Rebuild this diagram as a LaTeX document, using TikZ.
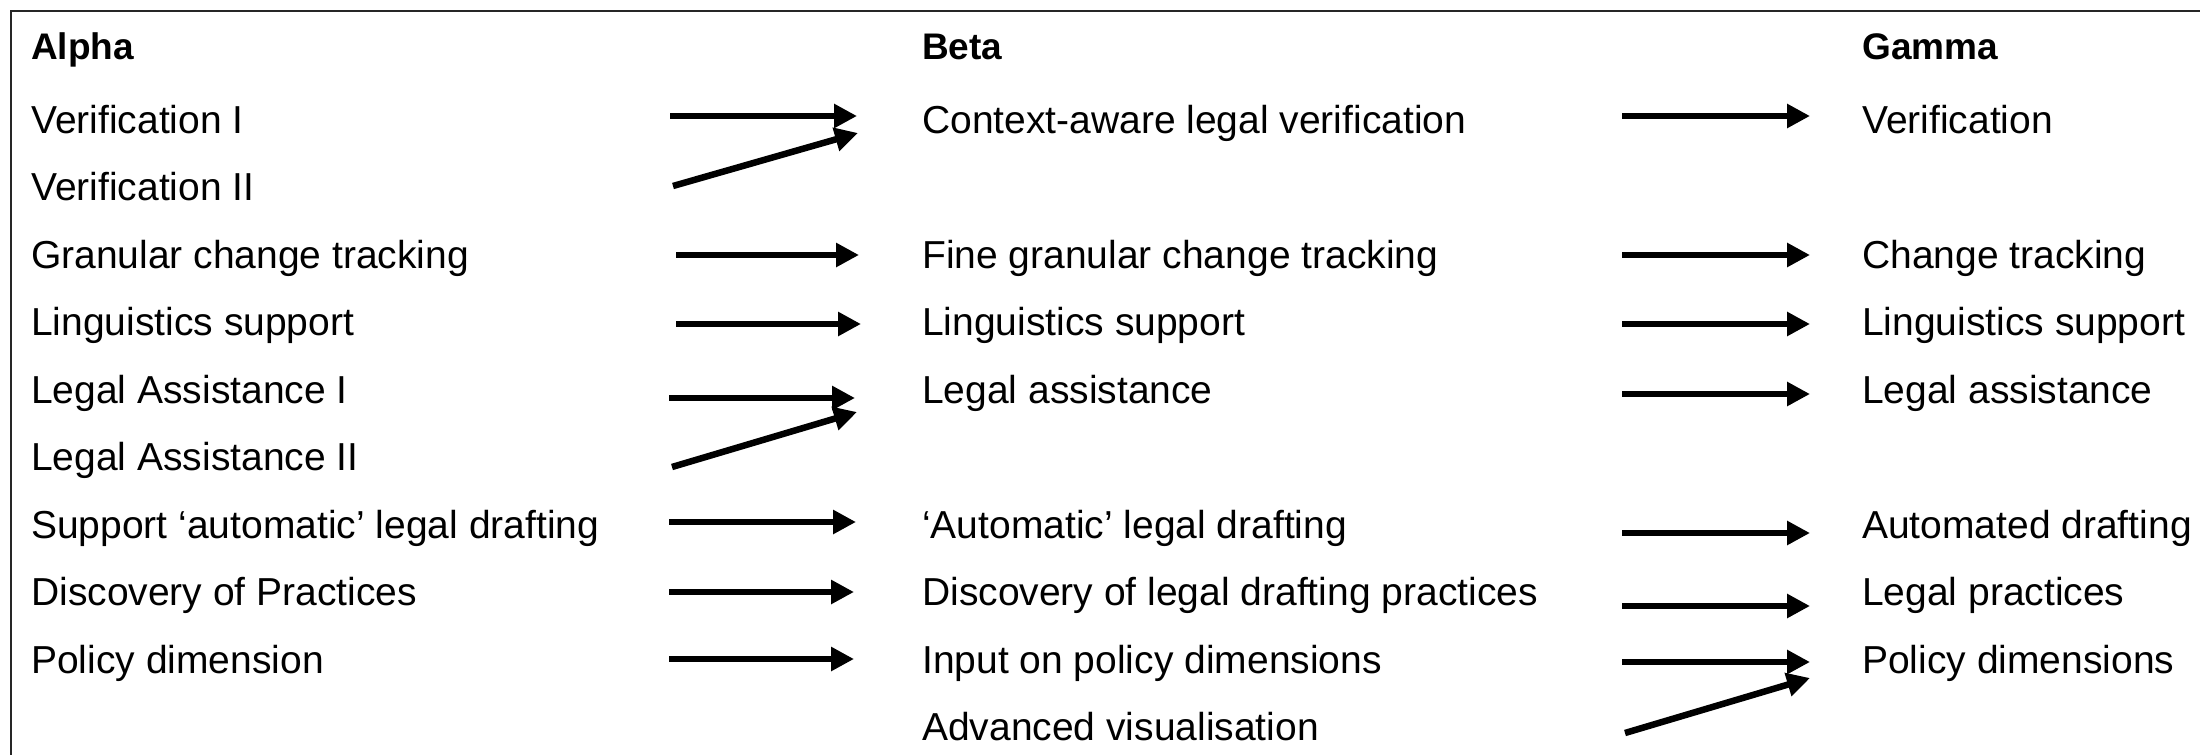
\documentclass[tikz,border=0pt]{standalone}
\usepackage{fontspec}
\setmainfont{Liberation Sans}
\usetikzlibrary{arrows.meta}
\tikzset{
  lbl/.style={anchor=base west, inner sep=0pt, font=\fontsize{39bp}{47bp}\selectfont},
  hdr/.style={anchor=base west, inner sep=0pt, font=\fontsize{37bp}{45bp}\selectfont\bfseries},
  arr/.style={line width=6.5bp, -{Triangle[length=23bp,width=23bp]}},
  frame/.style={line width=2bp, black!85}
}
\begin{document}
\begin{tikzpicture}[x=1bp,y=-1bp]
\useasboundingbox (0,0) rectangle (2200,755);
\draw[frame] (2200,11) -- (11,11) -- (11,755);
% column x positions
\def\xa{31}\def\xb{922}\def\xc{1862}
% headers
\node[hdr] (ha) at (\xa,60) {Alpha};
\node[hdr] (hb) at (\xb,60) {Beta};
\node[hdr] (hc) at (\xc,60) {Gamma};
% column A
\node[lbl] (a1) at (\xa,133) {Verification I};
\node[lbl] (a2) at (\xa,200.5) {Verification II};
\node[lbl] (a3) at (\xa,268) {Granular change tracking};
\node[lbl] (a4) at (\xa,335.5) {Linguistics support};
\node[lbl] (a5) at (\xa,403) {Legal Assistance I};
\node[lbl] (a6) at (\xa,470.5) {Legal Assistance II};
\node[lbl] (a7) at (\xa,538) {Support ‘automatic’ legal drafting};
\node[lbl] (a8) at (\xa,605.5) {Discovery of Practices};
\node[lbl] (a9) at (\xa,673) {Policy dimension};
% column B
\node[lbl] (b1) at (\xb,133) {Context-aware legal verification};
\node[lbl] (b3) at (\xb,268) {Fine granular change tracking};
\node[lbl] (b4) at (\xb,335.5) {Linguistics support};
\node[lbl] (b5) at (\xb,403) {Legal assistance};
\node[lbl] (b7) at (\xb,538) {‘Automatic’ legal drafting};
\node[lbl] (b8) at (\xb,605.5) {Discovery of legal drafting practices};
\node[lbl] (b9) at (\xb,673) {Input on policy dimensions};
\node[lbl] (b10) at (\xb,740.5) {Advanced visualisation};
% column C
\node[lbl] (c1) at (\xc,133) {Verification};
\node[lbl] (c3) at (\xc,268) {Change tracking};
\node[lbl] (c4) at (\xc,335.5) {Linguistics support};
\node[lbl] (c5) at (\xc,403) {Legal assistance};
\node[lbl] (c7) at (\xc,538) {Automated drafting};
\node[lbl] (c8) at (\xc,605.5) {Legal practices};
\node[lbl] (c9) at (\xc,673) {Policy dimensions};
% arrow end points A -> B
\coordinate (ab1s) at (670,116);  \coordinate (ab1t) at (857,116);
\coordinate (ab2s) at (673,186);  \coordinate (ab2t) at (858,133);
\coordinate (ab3s) at (676,255);  \coordinate (ab3t) at (859,255);
\coordinate (ab4s) at (676,324);  \coordinate (ab4t) at (861,324);
\coordinate (ab5s) at (669,398);  \coordinate (ab5t) at (855,398);
\coordinate (ab6s) at (672,467);  \coordinate (ab6t) at (857,412);
\coordinate (ab7s) at (669,522);  \coordinate (ab7t) at (856,522);
\coordinate (ab8s) at (669,592);  \coordinate (ab8t) at (854,592);
\coordinate (ab9s) at (669,659);  \coordinate (ab9t) at (854,659);
% arrow end points B -> C
\coordinate (bc1s) at (1622,116); \coordinate (bc1t) at (1810,116);
\coordinate (bc3s) at (1622,255); \coordinate (bc3t) at (1810,255);
\coordinate (bc4s) at (1622,324); \coordinate (bc4t) at (1810,324);
\coordinate (bc5s) at (1622,394); \coordinate (bc5t) at (1810,394);
\coordinate (bc7s) at (1622,533); \coordinate (bc7t) at (1810,533);
\coordinate (bc8s) at (1622,606); \coordinate (bc8t) at (1810,606);
\coordinate (bc9s) at (1622,662); \coordinate (bc9t) at (1810,662);
\coordinate (bc10s) at (1625,733); \coordinate (bc10t) at (1810,678);
\foreach \n in {1,...,9} {\draw[arr] (ab\n s) -- (ab\n t);}
\foreach \n in {1,3,4,5,7,8,9,10} {\draw[arr] (bc\n s) -- (bc\n t);}
\end{tikzpicture}
\end{document}
